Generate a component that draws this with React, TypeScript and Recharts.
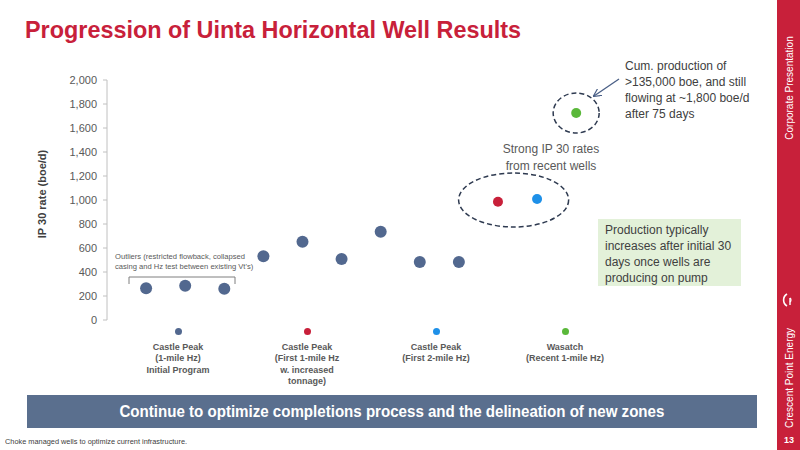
import React from "react";
import { ScatterChart, Scatter, XAxis, YAxis, ReferenceDot } from "recharts";

// ---- data ----
const castlePeakInitial = [264, 286, 261, 531, 653, 508, 736, 483, 483];
const castlePeakTonnage = [986];
const castlePeakTwoMile = [1008];
const wasatchRecent = [1725];

const seriesNames = [
  "Castle Peak\n(1-mile Hz)\nInitial Program",
  "Castle Peak\n(First 1-mile Hz\nw. increased\ntonnage)",
  "Castle Peak\n(First 2-mile Hz)",
  "Wasatch\n(Recent 1-mile Hz)",
];
const seriesColors = ["#52688f", "#c8203a", "#1e90e8", "#5ab83a"];
const yTicks = [0, 200, 400, 600, 800, 1000, 1200, 1400, 1600, 1800, 2000];

const allSeries = [castlePeakInitial, castlePeakTonnage, castlePeakTwoMile, wasatchRecent];
let counter = 0;
const seriesData = allSeries.map((vals) =>
  vals.map((v) => {
    counter += 1;
    return { x: counter, y: v };
  })
);

const FONT = "'Liberation Sans', Arial, sans-serif";
const RED = "#c8203a";

const dotShape = (color: string, r: number) => (p: any) => (
  <circle cx={p.cx} cy={p.cy} r={r} fill={color} />
);

export default function App() {
  return (
    <div style={{ position: "absolute", left: 0, top: 0, width: 800, height: 450, background: "#fff", overflow: "hidden", fontFamily: FONT }}>
      {/* Title */}
      <div style={{ position: "absolute", left: 25, top: 17, fontSize: 23.4, fontWeight: "bold", color: RED, whiteSpace: "nowrap" }}>
        Progression of Uinta Horizontal Well Results
      </div>

      {/* Y-axis title */}
      <div style={{ position: "absolute", left: 42, top: 194, transform: "translate(-50%,-50%) rotate(-90deg)", fontSize: 11, fontWeight: "bold", color: "#404040", whiteSpace: "nowrap" }}>
        IP 30 rate (boe/d)
      </div>

      <div style={{ position: "absolute", left: 0, top: 0 }}>
        <ScatterChart width={800} height={450} margin={{ top: 80, right: 173, bottom: 130, left: 57 }}>
          <XAxis type="number" dataKey="x" domain={[0, 13.3]} tick={false} tickLine={false} height={0} axisLine={{ stroke: "#c0c0c0" }} allowDataOverflow />
          <YAxis
            type="number"
            dataKey="y"
            width={50}
            domain={[0, 2000]}
            ticks={yTicks}
            tickFormatter={(v: number) => v.toLocaleString("en-US")}
            tick={{ fontSize: 11, fill: "#595959", fontFamily: FONT }}
            tickSize={4}
            tickMargin={6}
            tickLine={{ stroke: "#c0c0c0" }}
            axisLine={{ stroke: "#c0c0c0" }}
          />
          {seriesData.map((d, i) => (
            <Scatter
              key={i}
              name={seriesNames[i]}
              data={d}
              fill={seriesColors[i]}
              isAnimationActive={false}
              shape={dotShape(seriesColors[i], i === 0 ? 6 : 5)}
            />
          ))}
          <ReferenceDot
            x={10.4}
            y={1000}
            r={0}
            shape={(p: any) => (
              <ellipse cx={p.cx} cy={p.cy} rx={55} ry={27} fill="none" stroke="#2e3a50" strokeWidth={1.5} strokeDasharray="5 3" />
            )}
          />
          <ReferenceDot
            x={12}
            y={1725}
            r={0}
            shape={(p: any) => (
              <ellipse cx={p.cx} cy={p.cy} rx={23} ry={20} fill="none" stroke="#2e3a50" strokeWidth={1.5} strokeDasharray="5 3" />
            )}
          />
        </ScatterChart>
      </div>

      {/* Arrow and bracket */}
      <svg style={{ position: "absolute", left: 0, top: 0 }} width={800} height={450} pointerEvents="none">
        <defs>
          <marker id="ah" markerWidth="8" markerHeight="8" refX="7" refY="4" orient="auto" markerUnits="userSpaceOnUse">
            <path d="M0,0 L8,4 L0,8" fill="none" stroke="#4a5f86" strokeWidth={1.2} />
          </marker>
        </defs>
        <line x1={619} y1={79} x2={594} y2={96} stroke="#4a5f86" strokeWidth={1.3} markerEnd="url(#ah)" />
        <path d="M129,284 L129,277 L235,277 L235,284" fill="none" stroke="#7f7f7f" strokeWidth={1} />
      </svg>

      {/* Outliers note */}
      <div style={{ position: "absolute", left: 115, top: 252, fontSize: 7.6, lineHeight: "10px", color: "#595959", whiteSpace: "nowrap" }}>
        Outliers (restricted flowback, collapsed
        <br />
        casing and Hz test between existing Vt's)
      </div>

      {/* Strong IP note */}
      <div style={{ position: "absolute", left: 551, top: 141, transform: "translateX(-50%)", fontSize: 12, lineHeight: "17px", color: "#595959", textAlign: "center", whiteSpace: "nowrap" }}>
        Strong IP 30 rates
        <br />
        from recent wells
      </div>

      {/* Cum production note */}
      <div style={{ position: "absolute", left: 625, top: 58, fontSize: 12, lineHeight: "16px", color: "#404040", whiteSpace: "nowrap" }}>
        Cum. production of
        <br />
        &gt;135,000 boe, and still
        <br />
        flowing at ~1,800 boe/d
        <br />
        after 75 days
      </div>

      {/* Green box */}
      <div style={{ position: "absolute", left: 598, top: 219, width: 143, height: 67, background: "#e3f1d9", boxSizing: "border-box", padding: "3px 0 0 7px", fontSize: 12, lineHeight: "16px", color: "#404040", whiteSpace: "nowrap" }}>
        Production typically
        <br />
        increases after initial 30
        <br />
        days once wells are
        <br />
        producing on pump
      </div>

      {/* Legend */}
      {seriesNames.map((n, i) => {
        const cx = 178 + i * 129;
        return (
          <div key={i} style={{ position: "absolute", left: cx - 65, top: 328, width: 130, textAlign: "center" }}>
            <div style={{ width: 7, height: 7, borderRadius: "50%", background: seriesColors[i], margin: "0 auto" }} />
            <div style={{ marginTop: 7, fontSize: 9, lineHeight: "11.3px", fontWeight: "bold", color: "#595959", whiteSpace: "pre-line" }}>{n}</div>
          </div>
        );
      })}

      {/* Banner */}
      <div style={{ position: "absolute", left: 27, top: 395, width: 730, height: 33, background: "#5a6f8e", color: "#fff", fontWeight: "bold", fontSize: 16, lineHeight: "33px", textAlign: "center", whiteSpace: "nowrap" }}>
        <span style={{ display: "inline-block", transform: "scaleX(0.943)" }}>
          Continue to optimize completions process and the delineation of new zones
        </span>
      </div>

      {/* Footnote */}
      <div style={{ position: "absolute", left: 5, top: 437, fontSize: 8, color: "#404040", whiteSpace: "nowrap", transform: "scaleX(0.92)", transformOrigin: "left center" }}>
        Choke managed wells to optimize current infrastructure.
      </div>

      {/* Sidebar */}
      <div style={{ position: "absolute", left: 777, top: 0, width: 23, height: 450, background: RED }} />
      <div style={{ position: "absolute", left: 789, top: 88, transform: "translate(-50%,-50%) rotate(-90deg)", fontSize: 10, color: "#fff", whiteSpace: "nowrap" }}>
        Corporate Presentation
      </div>
      <div style={{ position: "absolute", left: 789, top: 378, transform: "translate(-50%,-50%) rotate(-90deg)", fontSize: 10, color: "#fff", whiteSpace: "nowrap" }}>
        Crescent Point Energy
      </div>
      <svg style={{ position: "absolute", left: 781, top: 291 }} width={16} height={18}>
        <path d="M6,3 A7,7 0 0 0 6,15" fill="none" stroke="#fff" strokeWidth={1.6} />
        <path d="M9,7 L9,14" stroke="#fff" strokeWidth={1.4} />
        <path d="M9,7 A2.5,2.5 0 0 1 9,11" fill="none" stroke="#fff" strokeWidth={1.2} />
      </svg>
      <div style={{ position: "absolute", left: 789, top: 440, transform: "translate(-50%,-50%)", fontSize: 9, fontWeight: "bold", color: "#fff" }}>
        13
      </div>
    </div>
  );
}
